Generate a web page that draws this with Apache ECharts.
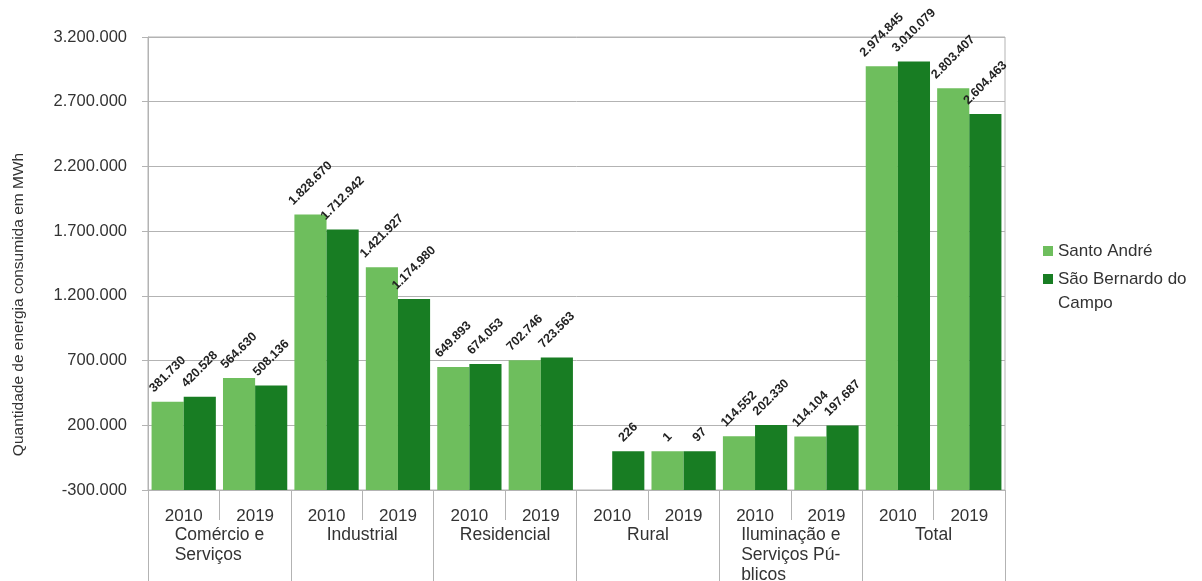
<!DOCTYPE html>
<html>
<head>
<meta charset="utf-8">
<script src="https://cdn.jsdelivr.net/npm/echarts@6/dist/echarts.min.js"></script>
<style>
  html, body { margin: 0; padding: 0; background: #fff; }
  #chart { width: 1202px; height: 581px; }
</style>
</head>
<body>
<div id="chart"></div>
<script>
// categorias (nível 1: anos, nível 2: setores)
const years = ['2010', '2019', '2010', '2019', '2010', '2019', '2010', '2019', '2010', '2019', '2010', '2019'];
const sectors = ['Comércio e\nServiços', 'Industrial', 'Residencial', 'Rural', 'Iluminação e\nServiços Pú-\nblicos', 'Total'];

// consumo em MWh
const santoAndre = [381730, 564630, 1828670, 1421927, 649893, 702746, null, 1, 114552, 114104, 2974845, 2803407];
const saoBernardo = [420528, 508136, 1712942, 1174980, 674053, 723563, 226, 97, 202330, 197687, 3010079, 2604463];

const yMin = -300000;
const yMax = 3200000;
const yStep = 500000;

const FONT = '"Liberation Sans", Arial, sans-serif';
const GRID_COLOR = '#b3b3b3';
const TEXT_COLOR = '#333';

// 1234567 -> 1.234.567
const fmt = v => String(v).replace(/\B(?=(\d{3})+(?!\d))/g, '.');

// distância do rótulo girado: o canto inferior fica logo acima da barra
const ctx = document.createElement('canvas').getContext('2d');
ctx.font = 'bold 12.5px ' + FONT;
const labelDistance = text => 7 + (ctx.measureText(text).width + 12.5) * 0.354;

const buildData = values => values.map(v =>
  v == null ? '-' : { value: v, label: { distance: labelDistance(fmt(v)) } }
);

const chart = echarts.init(document.getElementById('chart'));

const barLabel = {
  show: true,
  position: 'top',
  rotate: 45,
  align: 'center',
  verticalAlign: 'middle',
  fontFamily: FONT,
  fontSize: 12.5,
  fontWeight: 'bold',
  color: '#222',
  formatter: p => fmt(p.value)
};

const legendBase = {
  orient: 'vertical',
  left: 1038,
  icon: 'rect',
  itemWidth: 10,
  itemHeight: 10,
  itemGap: 4,
  textStyle: { fontSize: 17, color: TEXT_COLOR, lineHeight: 24 }
};

const option = {
  animation: false,
  textStyle: { fontFamily: FONT },
  grid: {
    left: 148,
    right: 197,
    top: 37,
    bottom: 91,
    outerBoundsMode: 'none',
    containLabel: false,
    show: true,
    borderColor: GRID_COLOR,
    borderWidth: 1
  },
  legend: [
    Object.assign({}, legendBase, { top: 234, data: ['Santo André'] }),
    Object.assign({}, legendBase, {
      top: 238,
      // linha vazia no início: o marcador fica alinhado com a primeira linha do texto
      formatter: name => '\n' + name.replace('do Campo', 'do\nCampo'),
      data: ['São Bernardo do Campo']
    })
  ],
  xAxis: [
    {
      type: 'category',
      data: years,
      position: 'bottom',
      axisLine: { onZero: false, lineStyle: { color: GRID_COLOR } },
      axisTick: { show: true, length: 30, interval: 0, lineStyle: { color: GRID_COLOR } },
      axisLabel: { interval: 0, margin: 17, fontSize: 17, color: TEXT_COLOR, lineHeight: 18 },
      splitLine: { show: false }
    },
    {
      type: 'category',
      data: sectors,
      position: 'bottom',
      axisLine: { show: false, onZero: false },
      axisTick: { show: true, length: 92, interval: 0, lineStyle: { color: GRID_COLOR } },
      axisLabel: {
        interval: 0,
        margin: 35,
        fontSize: 17.5,
        color: TEXT_COLOR,
        lineHeight: 20,
        formatter: v => v.split('\n').map(s => '{l|' + s + '}').join('\n'),
        rich: { l: { align: 'left', fontSize: 17.5, color: TEXT_COLOR, lineHeight: 20 } }
      },
      splitLine: { show: false }
    }
  ],
  yAxis: {
    type: 'value',
    min: yMin,
    max: yMax,
    interval: yStep,
    startValue: yMin,
    name: 'Quantidade de energia consumida em MWh',
    nameLocation: 'middle',
    nameGap: 121,
    nameTextStyle: { fontSize: 15.5, color: TEXT_COLOR, padding: [0, 0, 0, -82] },
    axisLine: { show: true, lineStyle: { color: GRID_COLOR } },
    axisTick: { show: true, length: 6, lineStyle: { color: GRID_COLOR } },
    axisLabel: { fontSize: 16.5, color: TEXT_COLOR, margin: 21, formatter: v => fmt(v) },
    splitLine: { show: true, lineStyle: { color: GRID_COLOR, width: 1 } }
  },
  series: [
    {
      name: 'Santo André',
      type: 'bar',
      xAxisIndex: 0,
      barGap: '0%',
      barCategoryGap: '10%',
      itemStyle: { color: '#6ebe5d' },
      label: barLabel,
      data: buildData(santoAndre)
    },
    {
      name: 'São Bernardo do Campo',
      type: 'bar',
      xAxisIndex: 0,
      barGap: '0%',
      barCategoryGap: '10%',
      itemStyle: { color: '#187d23' },
      label: barLabel,
      data: buildData(saoBernardo)
    }
  ]
};

chart.setOption(option);
</script>
</body>
</html>
